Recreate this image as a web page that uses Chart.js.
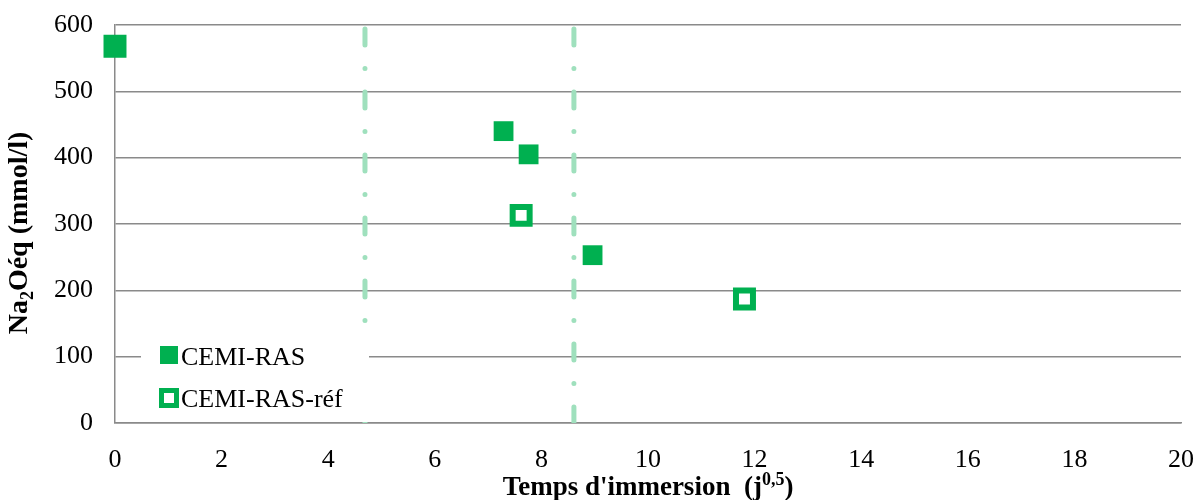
<!DOCTYPE html>
<html lang="fr">
<head>
<meta charset="UTF-8">
<title>Na2Oéq - CEMI-RAS</title>
<script src="https://cdn.jsdelivr.net/npm/chart.js@4.4.1/dist/chart.umd.min.js"></script>
<style>
  html, body { margin: 0; padding: 0; background: #fff; }
  #wrap { width: 1203px; height: 500px; }
</style>
</head>
<body>
<div id="wrap"><canvas id="naChart"></canvas></div>
<script>
// DONNEES
const casX = [0, 7.29, 7.76, 8.96];
const casY = [568, 440, 405, 253];
const refX = [0, 7.62, 11.81];
const refY = [568, 313, 187];
const limitX = [4.69, 8.61]; // lignes verticales
const yTicks = [0, 100, 200, 300, 400, 500, 600];
const xTicks = [0, 2, 4, 6, 8, 10, 12, 14, 16, 18, 20];
const seriesNames = ["CEMI-RAS", "CEMI-RAS-réf"];

const green = "#00b050";
const lightGreen = "#9fe0bd";
const gridGray = "#8a8a8a";
const serif = "'Liberation Serif', 'Times New Roman', serif";

const toPoints = (xs, ys) => xs.map((x, i) => ({ x: x, y: ys[i] }));

// lignes verticales pointillées
const limitSets = limitX.map((x) => ({
  data: [{ x: x, y: yTicks[0] }, { x: x, y: yTicks[yTicks.length - 1] }],
  showLine: true,
  pointRadius: 0,
  borderColor: lightGreen,
  borderWidth: 5,
  borderCapStyle: "round",
  borderDash: [16, 23.5, 0, 23.5],
}));

// texte avec indices / exposants
function richText(ctx, parts, x, y, size) {
  let total = 0;
  parts.forEach((p) => {
    ctx.font = "bold " + (p.s ? Math.round(size * 0.65) : size) + "px " + serif;
    p.w = ctx.measureText(p.t).width;
    total += p.w;
  });
  let cx = x - total / 2;
  parts.forEach((p) => {
    ctx.font = "bold " + (p.s ? Math.round(size * 0.65) : size) + "px " + serif;
    let dy = 0;
    if (p.s === "sub") dy = size * 0.22;
    if (p.s === "sup") dy = -size * 0.38;
    ctx.fillText(p.t, cx, y + dy);
    cx += p.w;
  });
}

// LEGENDE + TITRES D'AXES
const extrasPlugin = {
  id: "extras",
  afterDatasetsDraw(chart) {
    const ctx = chart.ctx;
    const a = chart.chartArea;
    ctx.save();
    // fond blanc de la légende
    ctx.fillStyle = "#fff";
    ctx.fillRect(a.left + 26, a.top + 300, 228, 97);
    const mx = a.left + 54;
    const rows = [a.top + 330, a.top + 373];
    // carré plein
    ctx.fillStyle = green;
    ctx.fillRect(mx - 9, rows[0] - 9, 18, 18);
    // carré vide
    ctx.strokeStyle = green;
    ctx.lineWidth = 5;
    ctx.fillStyle = "#fff";
    ctx.beginPath();
    ctx.rect(mx - 7.5, rows[1] - 7.5, 15, 15);
    ctx.fill();
    ctx.stroke();
    ctx.fillStyle = "#000";
    ctx.font = "26px " + serif;
    ctx.textBaseline = "alphabetic";
    ctx.textAlign = "left";
    ctx.fillText(seriesNames[0], mx + 12, rows[0] + 10);
    ctx.fillText(seriesNames[1], mx + 12, rows[1] + 9);
    ctx.restore();
  },
  afterDraw(chart) {
    const ctx = chart.ctx;
    const a = chart.chartArea;
    ctx.save();
    ctx.fillStyle = "#000";
    ctx.textAlign = "left";
    ctx.textBaseline = "alphabetic";
    richText(ctx, [{ t: "Temps d'immersion  (j" }, { t: "0,5", s: "sup" }, { t: ")" }], (a.left + a.right) / 2, 495, 27);
    ctx.translate(27, (a.top + a.bottom) / 2 + 9);
    ctx.rotate(-Math.PI / 2);
    richText(ctx, [{ t: "Na" }, { t: "2", s: "sub" }, { t: "Oéq (mmol/l)" }], 0, 0, 28);
    ctx.restore();
  },
};

// CHART
const ctx = document.getElementById("naChart").getContext("2d");
new Chart(ctx, {
  type: "scatter",
  data: {
    datasets: [
      {
        label: seriesNames[0],
        data: toPoints(casX, casY),
        pointStyle: "rect",
        pointRadius: 14,
        pointBackgroundColor: green,
        pointBorderWidth: 0,
        clip: false,
      },
      {
        label: seriesNames[1],
        data: toPoints(refX, refY),
        pointStyle: "rect",
        pointRadius: 12,
        pointBackgroundColor: "#fff",
        pointBorderColor: green,
        pointBorderWidth: 6,
        clip: false,
      },
      ...limitSets,
    ],
  },
  options: {
    responsive: true,
    maintainAspectRatio: false,
    animation: false,
    layout: { padding: { top: 25, right: 22, left: 0, bottom: 0 } },
    plugins: { legend: { display: false }, tooltip: { enabled: false } },
    scales: {
      x: {
        min: xTicks[0],
        max: xTicks[xTicks.length - 1],
        afterBuildTicks: (s) => { s.ticks = xTicks.map((v) => ({ value: v })); },
        afterFit: (s) => {
          s.height = 77;
          s.paddingLeft = 0;
          s.paddingRight = 0;
        },
        grid: { display: false, drawTicks: false },
        border: { display: true, color: gridGray, width: 1.5 },
        ticks: { color: "#000", padding: 22, maxRotation: 0, font: { family: serif, size: 26 } },
      },
      y: {
        min: yTicks[0],
        max: yTicks[yTicks.length - 1],
        afterBuildTicks: (s) => { s.ticks = yTicks.map((v) => ({ value: v })); },
        afterFit: (s) => {
          s.width = 115;
          s.paddingTop = 0;
          s.paddingBottom = 0;
        },
        grid: { color: gridGray, lineWidth: 1.5, drawTicks: false },
        border: { display: true, color: gridGray, width: 1.5 },
        ticks: { color: "#000", padding: 22, font: { family: serif, size: 26 } },
      },
    },
  },
  plugins: [extrasPlugin],
});
</script>
</body>
</html>
